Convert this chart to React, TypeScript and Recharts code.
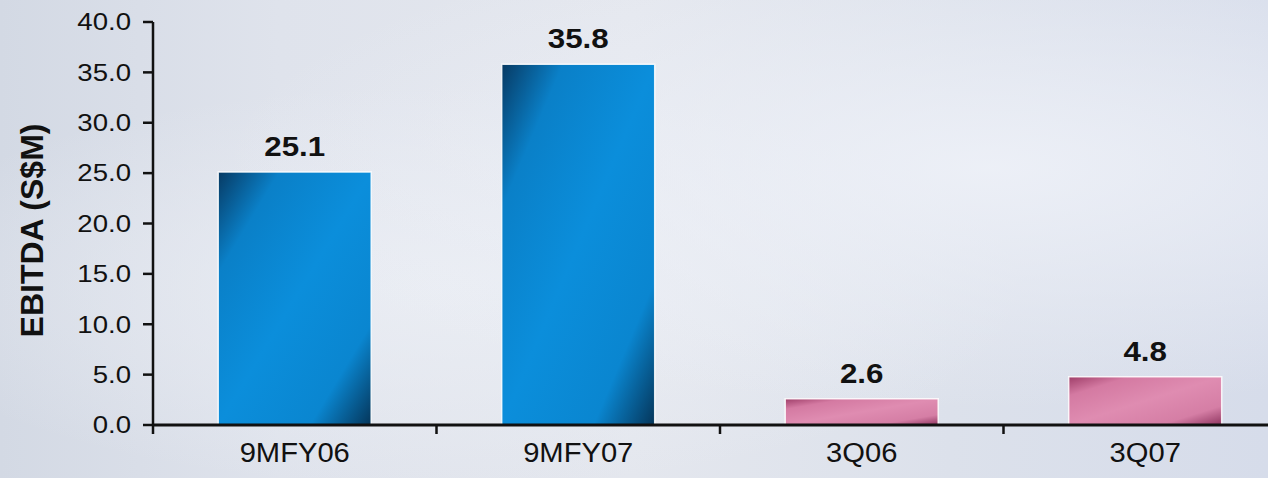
import React from 'react';
import { BarChart, Bar, XAxis, YAxis, Cell, LabelList } from 'recharts';

const categories = ['9MFY06', '9MFY07', '3Q06', '3Q07'];
const ebitdaValues = [25.1, 35.8, 2.6, 4.8];
const barColorKeys = ['blue', 'blue', 'pink', 'pink'];
const yTicks = [0, 5, 10, 15, 20, 25, 30, 35, 40];
const yAxisTitle = 'EBITDA (S$M)';

const data = categories.map((c, i) => ({ category: c, value: ebitdaValues[i], color: barColorKeys[i] }));

const FONT = '"Liberation Sans", Arial, Helvetica, sans-serif';
const INK = '#111';

const YTick = (props: any) => {
  const { x, y, payload } = props;
  return (
    <g transform={`translate(${x},${y}) scale(1.2,1)`}>
      <text x={0} y={0} dy="0.36em" textAnchor="end" fontFamily={FONT} fontSize={23} fill={INK}>
        {Number(payload.value).toFixed(1)}
      </text>
    </g>
  );
};

const XTick = (props: any) => {
  const { x, y, payload, index, visibleTicksCount, width } = props;
  const band = Number(width) / Number(visibleTicksCount);
  const ok = isFinite(band);
  return (
    <g>
      {ok && <line x1={x - band / 2} x2={x - band / 2} y1={y} y2={y + 9} stroke={INK} strokeWidth={2.5} />}
      {ok && index === visibleTicksCount - 1 && (
        <line x1={x + band / 2} x2={x + band / 2} y1={y} y2={y + 9} stroke={INK} strokeWidth={2.5} />
      )}
      <g transform={`translate(${x},${y + 37}) scale(1.08,1)`}>
        <text x={0} y={0} textAnchor="middle" fontFamily={FONT} fontSize={27} fill={INK}>
          {payload.value}
        </text>
      </g>
    </g>
  );
};

const ValueLabel = (props: any) => {
  const { x, y, width, value } = props;
  return (
    <g transform={`translate(${Number(x) + Number(width) / 2},${Number(y) - 16}) scale(1.12,1)`}>
      <text x={0} y={0} textAnchor="middle" fontFamily={FONT} fontWeight="bold" fontSize={28} fill={INK}>
        {Number(value).toFixed(1)}
      </text>
    </g>
  );
};

const YTitle = (props: any) => {
  const vb = props.viewBox || {};
  const cx = (vb.x || 0) + 32;
  const cy = (vb.y || 0) + (vb.height || 0) / 2 + 7;
  return (
    <text
      x={cx}
      y={cy}
      transform={`rotate(-90, ${cx}, ${cy})`}
      textAnchor="middle"
      dominantBaseline="central"
      fontFamily={FONT}
      fontWeight="bold"
      fontSize={32}
      fill={INK}
    >
      {yAxisTitle}
    </text>
  );
};

export default function App() {
  return (
    <div
      style={{
        position: 'absolute',
        left: 0,
        top: 0,
        width: 1268,
        height: 478,
        overflow: 'hidden',
        background:
          'radial-gradient(ellipse at 78% 35%, rgba(238,241,248,0.9), rgba(238,241,248,0) 55%), radial-gradient(ellipse at 35% 60%, rgba(236,239,245,0.8), rgba(236,239,245,0) 50%), linear-gradient(90deg, #d3d9e4 0%, #dfe3ec 22%, #e4e7ee 50%, #dce1eb 75%, #d6dcea 100%)',
      }}
    >
      <BarChart
        width={1287}
        height={478}
        data={data}
        margin={{ top: 22, right: 0, bottom: 0, left: 0 }}
        barCategoryGap="23%"
      >
        <defs>
          <linearGradient id="blueGrad" x1="0" y1="0" x2="1" y2="1">
            <stop offset="0" stopColor="#073a63" />
            <stop offset="0.2" stopColor="#0a80c8" />
            <stop offset="0.5" stopColor="#0b8edb" />
            <stop offset="0.8" stopColor="#0a86d0" />
            <stop offset="1" stopColor="#053559" />
          </linearGradient>
          <linearGradient id="pinkGrad" x1="0" y1="0" x2="1" y2="1">
            <stop offset="0" stopColor="#9e3d68" />
            <stop offset="0.2" stopColor="#d47aa2" />
            <stop offset="0.5" stopColor="#df8cb1" />
            <stop offset="0.8" stopColor="#d57ea5" />
            <stop offset="1" stopColor="#8f3560" />
          </linearGradient>
        </defs>
        <XAxis
          dataKey="category"
          height={53}
          interval={0}
          axisLine={{ stroke: INK, strokeWidth: 3 }}
          tickLine={false}
          tickSize={0}
          tickMargin={0}
          tick={<XTick />}
        />
        <YAxis
          width={153}
          domain={[0, 40]}
          ticks={yTicks}
          interval={0}
          axisLine={{ stroke: INK, strokeWidth: 2.5 }}
          tickLine={{ stroke: INK, strokeWidth: 2.5 }}
          tickSize={10}
          tickMargin={12}
          tick={<YTick />}
          label={(p: any) => <YTitle {...p} />}
        />
        <Bar dataKey="value" isAnimationActive={false} stroke="rgba(255,255,255,0.85)" strokeWidth={1.5}>
          {data.map((d, i) => (
            <Cell key={i} fill={d.color === 'blue' ? 'url(#blueGrad)' : 'url(#pinkGrad)'} />
          ))}
          <LabelList dataKey="value" content={(p: any) => <ValueLabel {...p} />} />
        </Bar>
      </BarChart>
    </div>
  );
}
